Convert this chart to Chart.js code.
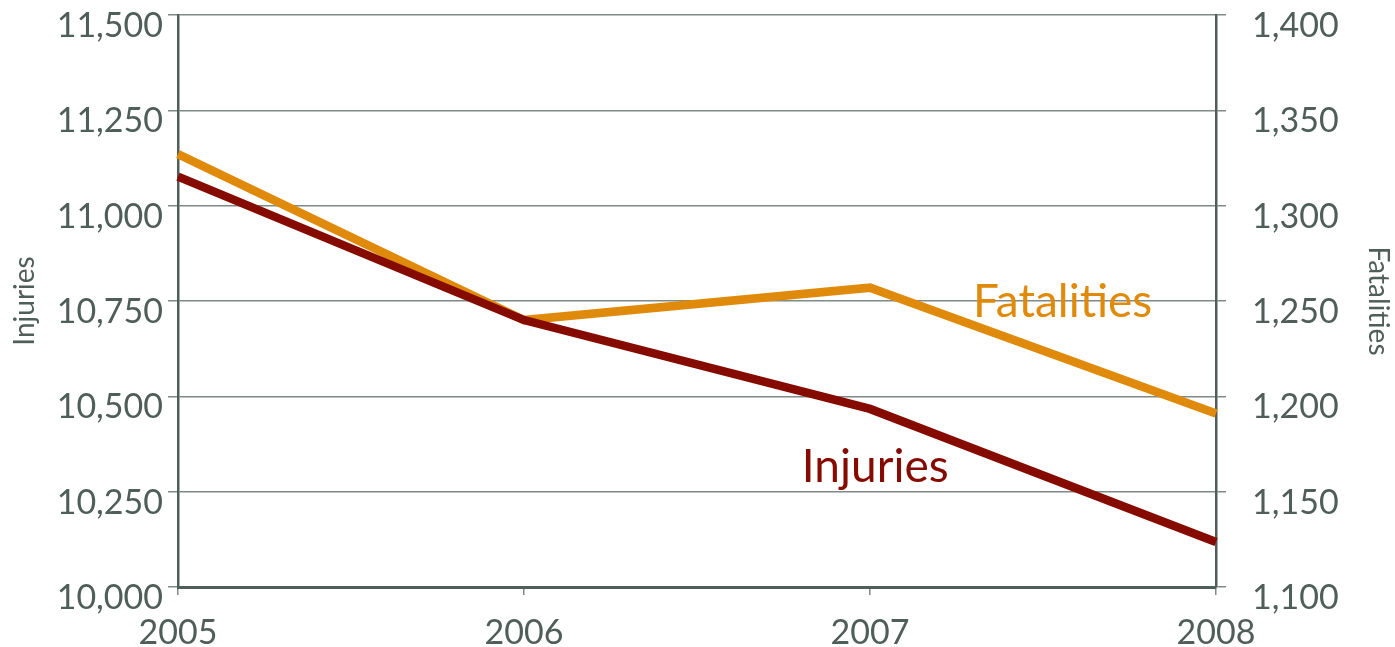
<!DOCTYPE html>
<html>
<head>
  <meta charset="UTF-8">
  <title>Injuries and Fatalities</title>
  <style type="text/css">
    html, body { margin: 0; padding: 0; background: #ffffff; }
    #chart-container { width: 1395px; height: 647px; }
  </style>
  <script type="text/javascript" src="https://cdn.jsdelivr.net/npm/chart.js@4.4.1/dist/chart.umd.min.js"></script>
</head>
<body>
<div id="chart-container">
  <canvas id="mycanvas" width="1395" height="647"></canvas>
</div>
<script>
var years = ['2005', '2006', '2007', '2008'];
var injuries = [11076, 10700, 10467, 10118];
var fatalities = [1327, 1240, 1257, 1191];

var gray = '#4f5e59';
var gridGray = '#7d8a86';
var fontFamily = 'Lato, "Open Sans", sans-serif';

// series names written beside the lines
var lineLabels = {
  id: 'lineLabels',
  afterDatasetsDraw: function(chart) {
    var ctx = chart.ctx;
    var x = chart.scales.x;
    var y = chart.scales.y;
    ctx.save();
    ctx.font = '46px ' + fontFamily;
    ctx.textBaseline = 'alphabetic';
    ctx.textAlign = 'left';
    ctx.fillStyle = '#e08a0b';
    ctx.fillText('Fatalities', x.getPixelForValue(2.298), y.getPixelForValue(10708));
    ctx.fillStyle = '#850a00';
    ctx.fillText('Injuries', x.getPixelForValue(1.803), y.getPixelForValue(10275));
    ctx.restore();
  }
};

function noPad(scale) {
  scale.paddingTop = 0;
  scale.paddingBottom = 0;
}

var ctx = document.getElementById('mycanvas');
new Chart(ctx, {
  type: 'line',
  data: {
    labels: years,
    datasets: [
      {
        label: 'Injuries',
        data: injuries,
        yAxisID: 'y',
        borderColor: '#850a00',
        borderWidth: 8.5,
        pointRadius: 0,
        tension: 0,
        fill: false
      },
      {
        label: 'Fatalities',
        data: fatalities,
        yAxisID: 'y1',
        borderColor: '#e08a0b',
        borderWidth: 8.5,
        pointRadius: 0,
        tension: 0,
        fill: false
      }
    ]
  },
  options: {
    responsive: false,
    animation: false,
    layout: { padding: { top: 15, left: 0, right: 0, bottom: 0 } },
    plugins: {
      legend: { display: false },
      tooltip: { enabled: false }
    },
    scales: {
      x: {
        offset: false,
        grid: { drawOnChartArea: false, drawTicks: true, tickLength: 8, color: gridGray, lineWidth: 1.5 },
        border: { display: true, color: gray, width: 3 },
        ticks: { color: gray, padding: 18, maxRotation: 0, font: { family: fontFamily, size: 34 } },
        afterFit: function(scale) {
          scale.height = 60;
          scale.paddingLeft = 0;
          scale.paddingRight = 0;
        }
      },
      y: {
        position: 'left',
        min: 10000,
        max: 11500,
        grid: { color: gridGray, lineWidth: 1.5, tickLength: 10 },
        border: { display: true, color: gray, width: 2.5 },
        ticks: {
          stepSize: 250,
          color: gray,
          padding: 5,
          labelOffset: 11,
          font: { family: fontFamily, size: 34 }
        },
        title: {
          display: true,
          text: 'Injuries',
          color: gray,
          padding: { top: 8, bottom: 0 },
          font: { family: fontFamily, size: 28 }
        },
        afterFit: function(scale) {
          scale.width = 178;
          noPad(scale);
        }
      },
      y1: {
        position: 'right',
        min: 1100,
        max: 1400,
        grid: { drawOnChartArea: false, color: gridGray, lineWidth: 1.5, tickLength: 10 },
        border: { display: true, color: gray, width: 2.5 },
        ticks: {
          stepSize: 50,
          color: gray,
          padding: 26,
          labelOffset: 11,
          font: { family: fontFamily, size: 34 }
        },
        title: {
          display: true,
          text: 'Fatalities',
          color: gray,
          padding: { top: 0, bottom: 0 },
          font: { family: fontFamily, size: 28 }
        },
        afterFit: function(scale) {
          scale.width = 179;
          noPad(scale);
        }
      }
    }
  },
  plugins: [lineLabels]
});
</script>
</body>
</html>
